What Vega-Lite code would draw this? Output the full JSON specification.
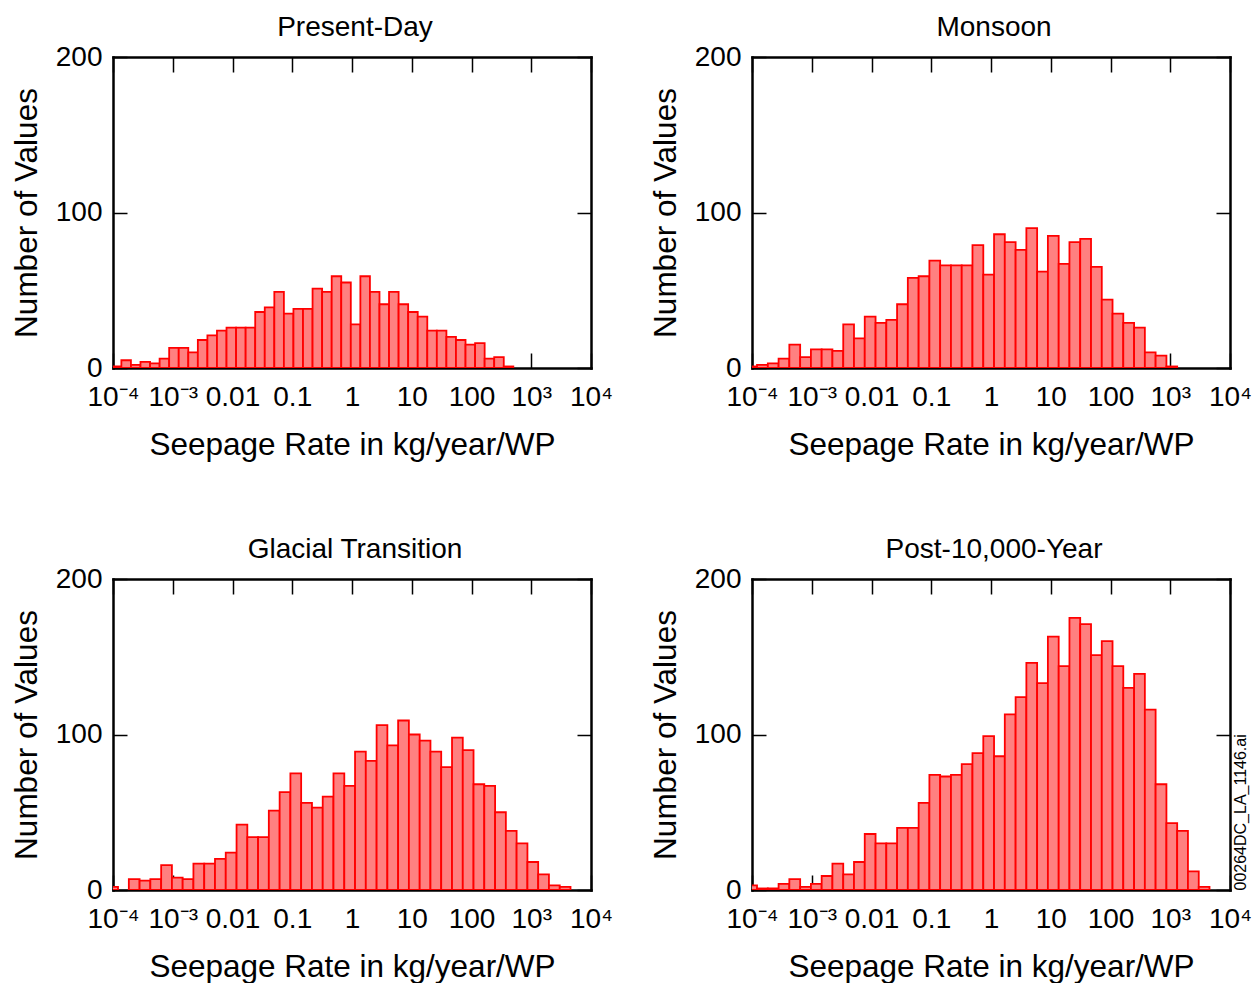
{
  "$schema": "https://vega.github.io/schema/vega-lite/v6.json",
  "background": "white",
  "padding": {"left": 11, "top": 14, "right": 0, "bottom": 0},
  "bounds": "flush",
  "columns": 2,
  "spacing": {"row": 211, "column": 161},
  "datasets": {
    "seepage": [
      {"period": "Present-Day", "log_lo": -4.02, "log_hi": -3.86, "count": 1},
      {"period": "Present-Day", "log_lo": -3.86, "log_hi": -3.70, "count": 5},
      {"period": "Present-Day", "log_lo": -3.70, "log_hi": -3.54, "count": 2},
      {"period": "Present-Day", "log_lo": -3.54, "log_hi": -3.38, "count": 4},
      {"period": "Present-Day", "log_lo": -3.38, "log_hi": -3.22, "count": 3},
      {"period": "Present-Day", "log_lo": -3.22, "log_hi": -3.06, "count": 6},
      {"period": "Present-Day", "log_lo": -3.06, "log_hi": -2.90, "count": 13},
      {"period": "Present-Day", "log_lo": -2.90, "log_hi": -2.74, "count": 13},
      {"period": "Present-Day", "log_lo": -2.74, "log_hi": -2.58, "count": 10},
      {"period": "Present-Day", "log_lo": -2.58, "log_hi": -2.42, "count": 18},
      {"period": "Present-Day", "log_lo": -2.42, "log_hi": -2.26, "count": 21},
      {"period": "Present-Day", "log_lo": -2.26, "log_hi": -2.10, "count": 24},
      {"period": "Present-Day", "log_lo": -2.10, "log_hi": -1.94, "count": 26},
      {"period": "Present-Day", "log_lo": -1.94, "log_hi": -1.78, "count": 26},
      {"period": "Present-Day", "log_lo": -1.78, "log_hi": -1.62, "count": 26},
      {"period": "Present-Day", "log_lo": -1.62, "log_hi": -1.46, "count": 36},
      {"period": "Present-Day", "log_lo": -1.46, "log_hi": -1.30, "count": 39},
      {"period": "Present-Day", "log_lo": -1.30, "log_hi": -1.14, "count": 49},
      {"period": "Present-Day", "log_lo": -1.14, "log_hi": -0.98, "count": 35},
      {"period": "Present-Day", "log_lo": -0.98, "log_hi": -0.82, "count": 38},
      {"period": "Present-Day", "log_lo": -0.82, "log_hi": -0.66, "count": 38},
      {"period": "Present-Day", "log_lo": -0.66, "log_hi": -0.50, "count": 51},
      {"period": "Present-Day", "log_lo": -0.50, "log_hi": -0.34, "count": 49},
      {"period": "Present-Day", "log_lo": -0.34, "log_hi": -0.18, "count": 59},
      {"period": "Present-Day", "log_lo": -0.18, "log_hi": -0.02, "count": 55},
      {"period": "Present-Day", "log_lo": -0.02, "log_hi": 0.14, "count": 28},
      {"period": "Present-Day", "log_lo": 0.14, "log_hi": 0.30, "count": 59},
      {"period": "Present-Day", "log_lo": 0.30, "log_hi": 0.46, "count": 49},
      {"period": "Present-Day", "log_lo": 0.46, "log_hi": 0.62, "count": 41},
      {"period": "Present-Day", "log_lo": 0.62, "log_hi": 0.78, "count": 49},
      {"period": "Present-Day", "log_lo": 0.78, "log_hi": 0.94, "count": 41},
      {"period": "Present-Day", "log_lo": 0.94, "log_hi": 1.10, "count": 36},
      {"period": "Present-Day", "log_lo": 1.10, "log_hi": 1.26, "count": 33},
      {"period": "Present-Day", "log_lo": 1.26, "log_hi": 1.42, "count": 24},
      {"period": "Present-Day", "log_lo": 1.42, "log_hi": 1.58, "count": 24},
      {"period": "Present-Day", "log_lo": 1.58, "log_hi": 1.74, "count": 20},
      {"period": "Present-Day", "log_lo": 1.74, "log_hi": 1.90, "count": 18},
      {"period": "Present-Day", "log_lo": 1.90, "log_hi": 2.06, "count": 15},
      {"period": "Present-Day", "log_lo": 2.06, "log_hi": 2.22, "count": 16},
      {"period": "Present-Day", "log_lo": 2.22, "log_hi": 2.38, "count": 6},
      {"period": "Present-Day", "log_lo": 2.38, "log_hi": 2.54, "count": 7},
      {"period": "Present-Day", "log_lo": 2.54, "log_hi": 2.70, "count": 1},

      {"period": "Monsoon", "log_lo": -4.096, "log_hi": -3.916, "count": 1},
      {"period": "Monsoon", "log_lo": -3.916, "log_hi": -3.735, "count": 2},
      {"period": "Monsoon", "log_lo": -3.735, "log_hi": -3.555, "count": 3},
      {"period": "Monsoon", "log_lo": -3.555, "log_hi": -3.375, "count": 6},
      {"period": "Monsoon", "log_lo": -3.375, "log_hi": -3.194, "count": 15},
      {"period": "Monsoon", "log_lo": -3.194, "log_hi": -3.014, "count": 7},
      {"period": "Monsoon", "log_lo": -3.014, "log_hi": -2.834, "count": 12},
      {"period": "Monsoon", "log_lo": -2.834, "log_hi": -2.654, "count": 12},
      {"period": "Monsoon", "log_lo": -2.654, "log_hi": -2.473, "count": 11},
      {"period": "Monsoon", "log_lo": -2.473, "log_hi": -2.293, "count": 28},
      {"period": "Monsoon", "log_lo": -2.293, "log_hi": -2.113, "count": 19},
      {"period": "Monsoon", "log_lo": -2.113, "log_hi": -1.932, "count": 33},
      {"period": "Monsoon", "log_lo": -1.932, "log_hi": -1.752, "count": 29},
      {"period": "Monsoon", "log_lo": -1.752, "log_hi": -1.572, "count": 31},
      {"period": "Monsoon", "log_lo": -1.572, "log_hi": -1.392, "count": 41},
      {"period": "Monsoon", "log_lo": -1.392, "log_hi": -1.211, "count": 58},
      {"period": "Monsoon", "log_lo": -1.211, "log_hi": -1.031, "count": 59},
      {"period": "Monsoon", "log_lo": -1.031, "log_hi": -0.851, "count": 69},
      {"period": "Monsoon", "log_lo": -0.851, "log_hi": -0.670, "count": 66},
      {"period": "Monsoon", "log_lo": -0.670, "log_hi": -0.490, "count": 66},
      {"period": "Monsoon", "log_lo": -0.490, "log_hi": -0.310, "count": 66},
      {"period": "Monsoon", "log_lo": -0.310, "log_hi": -0.129, "count": 79},
      {"period": "Monsoon", "log_lo": -0.129, "log_hi": 0.051, "count": 60},
      {"period": "Monsoon", "log_lo": 0.051, "log_hi": 0.231, "count": 86},
      {"period": "Monsoon", "log_lo": 0.231, "log_hi": 0.412, "count": 81},
      {"period": "Monsoon", "log_lo": 0.412, "log_hi": 0.592, "count": 76},
      {"period": "Monsoon", "log_lo": 0.592, "log_hi": 0.772, "count": 90},
      {"period": "Monsoon", "log_lo": 0.772, "log_hi": 0.952, "count": 62},
      {"period": "Monsoon", "log_lo": 0.952, "log_hi": 1.133, "count": 85},
      {"period": "Monsoon", "log_lo": 1.133, "log_hi": 1.313, "count": 67},
      {"period": "Monsoon", "log_lo": 1.313, "log_hi": 1.493, "count": 81},
      {"period": "Monsoon", "log_lo": 1.493, "log_hi": 1.674, "count": 83},
      {"period": "Monsoon", "log_lo": 1.674, "log_hi": 1.854, "count": 65},
      {"period": "Monsoon", "log_lo": 1.854, "log_hi": 2.034, "count": 44},
      {"period": "Monsoon", "log_lo": 2.034, "log_hi": 2.214, "count": 35},
      {"period": "Monsoon", "log_lo": 2.214, "log_hi": 2.395, "count": 29},
      {"period": "Monsoon", "log_lo": 2.395, "log_hi": 2.575, "count": 26},
      {"period": "Monsoon", "log_lo": 2.575, "log_hi": 2.755, "count": 10},
      {"period": "Monsoon", "log_lo": 2.755, "log_hi": 2.936, "count": 8},
      {"period": "Monsoon", "log_lo": 2.936, "log_hi": 3.116, "count": 1},

      {"period": "Glacial Transition", "log_lo": -4.096, "log_hi": -3.916, "count": 2},
      {"period": "Glacial Transition", "log_lo": -3.735, "log_hi": -3.555, "count": 7},
      {"period": "Glacial Transition", "log_lo": -3.555, "log_hi": -3.375, "count": 6},
      {"period": "Glacial Transition", "log_lo": -3.375, "log_hi": -3.194, "count": 7},
      {"period": "Glacial Transition", "log_lo": -3.194, "log_hi": -3.014, "count": 16},
      {"period": "Glacial Transition", "log_lo": -3.014, "log_hi": -2.834, "count": 8},
      {"period": "Glacial Transition", "log_lo": -2.834, "log_hi": -2.654, "count": 7},
      {"period": "Glacial Transition", "log_lo": -2.654, "log_hi": -2.473, "count": 17},
      {"period": "Glacial Transition", "log_lo": -2.473, "log_hi": -2.293, "count": 17},
      {"period": "Glacial Transition", "log_lo": -2.293, "log_hi": -2.113, "count": 20},
      {"period": "Glacial Transition", "log_lo": -2.113, "log_hi": -1.932, "count": 24},
      {"period": "Glacial Transition", "log_lo": -1.932, "log_hi": -1.752, "count": 42},
      {"period": "Glacial Transition", "log_lo": -1.752, "log_hi": -1.572, "count": 34},
      {"period": "Glacial Transition", "log_lo": -1.572, "log_hi": -1.392, "count": 34},
      {"period": "Glacial Transition", "log_lo": -1.392, "log_hi": -1.211, "count": 51},
      {"period": "Glacial Transition", "log_lo": -1.211, "log_hi": -1.031, "count": 63},
      {"period": "Glacial Transition", "log_lo": -1.031, "log_hi": -0.851, "count": 75},
      {"period": "Glacial Transition", "log_lo": -0.851, "log_hi": -0.670, "count": 56},
      {"period": "Glacial Transition", "log_lo": -0.670, "log_hi": -0.490, "count": 53},
      {"period": "Glacial Transition", "log_lo": -0.490, "log_hi": -0.310, "count": 60},
      {"period": "Glacial Transition", "log_lo": -0.310, "log_hi": -0.129, "count": 75},
      {"period": "Glacial Transition", "log_lo": -0.129, "log_hi": 0.051, "count": 67},
      {"period": "Glacial Transition", "log_lo": 0.051, "log_hi": 0.231, "count": 89},
      {"period": "Glacial Transition", "log_lo": 0.231, "log_hi": 0.412, "count": 83},
      {"period": "Glacial Transition", "log_lo": 0.412, "log_hi": 0.592, "count": 106},
      {"period": "Glacial Transition", "log_lo": 0.592, "log_hi": 0.772, "count": 93},
      {"period": "Glacial Transition", "log_lo": 0.772, "log_hi": 0.952, "count": 109},
      {"period": "Glacial Transition", "log_lo": 0.952, "log_hi": 1.133, "count": 100},
      {"period": "Glacial Transition", "log_lo": 1.133, "log_hi": 1.313, "count": 96},
      {"period": "Glacial Transition", "log_lo": 1.313, "log_hi": 1.493, "count": 89},
      {"period": "Glacial Transition", "log_lo": 1.493, "log_hi": 1.674, "count": 79},
      {"period": "Glacial Transition", "log_lo": 1.674, "log_hi": 1.854, "count": 98},
      {"period": "Glacial Transition", "log_lo": 1.854, "log_hi": 2.034, "count": 90},
      {"period": "Glacial Transition", "log_lo": 2.034, "log_hi": 2.214, "count": 68},
      {"period": "Glacial Transition", "log_lo": 2.214, "log_hi": 2.395, "count": 67},
      {"period": "Glacial Transition", "log_lo": 2.395, "log_hi": 2.575, "count": 50},
      {"period": "Glacial Transition", "log_lo": 2.575, "log_hi": 2.755, "count": 38},
      {"period": "Glacial Transition", "log_lo": 2.755, "log_hi": 2.936, "count": 30},
      {"period": "Glacial Transition", "log_lo": 2.936, "log_hi": 3.116, "count": 18},
      {"period": "Glacial Transition", "log_lo": 3.116, "log_hi": 3.296, "count": 10},
      {"period": "Glacial Transition", "log_lo": 3.296, "log_hi": 3.477, "count": 3},
      {"period": "Glacial Transition", "log_lo": 3.477, "log_hi": 3.657, "count": 2},

      {"period": "Post-10,000-Year", "log_lo": -4.096, "log_hi": -3.916, "count": 3},
      {"period": "Post-10,000-Year", "log_lo": -3.916, "log_hi": -3.735, "count": 1},
      {"period": "Post-10,000-Year", "log_lo": -3.735, "log_hi": -3.555, "count": 1},
      {"period": "Post-10,000-Year", "log_lo": -3.555, "log_hi": -3.375, "count": 4},
      {"period": "Post-10,000-Year", "log_lo": -3.375, "log_hi": -3.194, "count": 7},
      {"period": "Post-10,000-Year", "log_lo": -3.194, "log_hi": -3.014, "count": 2},
      {"period": "Post-10,000-Year", "log_lo": -3.014, "log_hi": -2.834, "count": 4},
      {"period": "Post-10,000-Year", "log_lo": -2.834, "log_hi": -2.654, "count": 9},
      {"period": "Post-10,000-Year", "log_lo": -2.654, "log_hi": -2.473, "count": 17},
      {"period": "Post-10,000-Year", "log_lo": -2.473, "log_hi": -2.293, "count": 10},
      {"period": "Post-10,000-Year", "log_lo": -2.293, "log_hi": -2.113, "count": 18},
      {"period": "Post-10,000-Year", "log_lo": -2.113, "log_hi": -1.932, "count": 36},
      {"period": "Post-10,000-Year", "log_lo": -1.932, "log_hi": -1.752, "count": 30},
      {"period": "Post-10,000-Year", "log_lo": -1.752, "log_hi": -1.572, "count": 30},
      {"period": "Post-10,000-Year", "log_lo": -1.572, "log_hi": -1.392, "count": 40},
      {"period": "Post-10,000-Year", "log_lo": -1.392, "log_hi": -1.211, "count": 40},
      {"period": "Post-10,000-Year", "log_lo": -1.211, "log_hi": -1.031, "count": 56},
      {"period": "Post-10,000-Year", "log_lo": -1.031, "log_hi": -0.851, "count": 74},
      {"period": "Post-10,000-Year", "log_lo": -0.851, "log_hi": -0.670, "count": 73},
      {"period": "Post-10,000-Year", "log_lo": -0.670, "log_hi": -0.490, "count": 74},
      {"period": "Post-10,000-Year", "log_lo": -0.490, "log_hi": -0.310, "count": 81},
      {"period": "Post-10,000-Year", "log_lo": -0.310, "log_hi": -0.129, "count": 88},
      {"period": "Post-10,000-Year", "log_lo": -0.129, "log_hi": 0.051, "count": 99},
      {"period": "Post-10,000-Year", "log_lo": 0.051, "log_hi": 0.231, "count": 86},
      {"period": "Post-10,000-Year", "log_lo": 0.231, "log_hi": 0.412, "count": 113},
      {"period": "Post-10,000-Year", "log_lo": 0.412, "log_hi": 0.592, "count": 124},
      {"period": "Post-10,000-Year", "log_lo": 0.592, "log_hi": 0.772, "count": 146},
      {"period": "Post-10,000-Year", "log_lo": 0.772, "log_hi": 0.952, "count": 133},
      {"period": "Post-10,000-Year", "log_lo": 0.952, "log_hi": 1.133, "count": 163},
      {"period": "Post-10,000-Year", "log_lo": 1.133, "log_hi": 1.313, "count": 144},
      {"period": "Post-10,000-Year", "log_lo": 1.313, "log_hi": 1.493, "count": 175},
      {"period": "Post-10,000-Year", "log_lo": 1.493, "log_hi": 1.674, "count": 171},
      {"period": "Post-10,000-Year", "log_lo": 1.674, "log_hi": 1.854, "count": 151},
      {"period": "Post-10,000-Year", "log_lo": 1.854, "log_hi": 2.034, "count": 160},
      {"period": "Post-10,000-Year", "log_lo": 2.034, "log_hi": 2.214, "count": 144},
      {"period": "Post-10,000-Year", "log_lo": 2.214, "log_hi": 2.395, "count": 130},
      {"period": "Post-10,000-Year", "log_lo": 2.395, "log_hi": 2.575, "count": 139},
      {"period": "Post-10,000-Year", "log_lo": 2.575, "log_hi": 2.755, "count": 116},
      {"period": "Post-10,000-Year", "log_lo": 2.755, "log_hi": 2.936, "count": 68},
      {"period": "Post-10,000-Year", "log_lo": 2.936, "log_hi": 3.116, "count": 43},
      {"period": "Post-10,000-Year", "log_lo": 3.116, "log_hi": 3.296, "count": 38},
      {"period": "Post-10,000-Year", "log_lo": 3.296, "log_hi": 3.477, "count": 12},
      {"period": "Post-10,000-Year", "log_lo": 3.477, "log_hi": 3.657, "count": 2}
    ]
  },
  "data": {"name": "seepage"},
  "concat": [
    {
      "title": "Present-Day",
      "width": 478, "height": 311,
      "transform": [{"filter": "datum.period === 'Present-Day'"}],
      "layer": [
        {
          "mark": {"type": "bar", "fill": "#ff8080", "stroke": "#ff0000", "strokeWidth": 1.8, "clip": true},
          "encoding": {
            "x": {"field": "log_lo", "type": "quantitative", "scale": {"domain": [-4, 4], "nice": false, "zero": false},
              "axis": {"orient": "bottom", "values": [-4, -3, -2, -1, 0, 1, 2, 3, 4], "title": "Seepage Rate in kg/year/WP", "tickSize": -15, "labelPadding": 30, "titlePadding": 18, "labelOverlap": false, "labelFlush": false, "labelBound": false,
                "labelExpr": "datum.value == -4 ? '10⁻⁴' : datum.value == -3 ? '10⁻³' : datum.value == -2 ? '0.01' : datum.value == -1 ? '0.1' : datum.value == 0 ? '1' : datum.value == 1 ? '10' : datum.value == 2 ? '100' : datum.value == 3 ? '10³' : '10⁴'"}},
            "x2": {"field": "log_hi"},
            "y": {"field": "count", "type": "quantitative", "scale": {"domain": [0, 200], "nice": false},
              "axis": {"orient": "left", "values": [0, 100, 200], "title": "Number of Values", "tickSize": -14, "labelPadding": 25, "titlePadding": 12}},
            "y2": {"datum": 0}
          }
        },
        {
          "mark": {"type": "point", "opacity": 0},
          "encoding": {
            "x": {"field": "log_lo", "type": "quantitative", "scale": {"domain": [-4, 4], "nice": false, "zero": false},
              "axis": {"orient": "top", "values": [-4, -3, -2, -1, 0, 1, 2, 3, 4], "labels": false, "title": null, "tickSize": -15}},
            "y": {"field": "count", "type": "quantitative", "scale": {"domain": [0, 200], "nice": false},
              "axis": {"orient": "right", "values": [0, 100, 200], "labels": false, "title": null, "tickSize": -14}}
          }
        }
      ],
      "resolve": {"axis": {"x": "independent", "y": "independent"}}
    },
    {
      "title": "Monsoon",
      "width": 478, "height": 311,
      "transform": [{"filter": "datum.period === 'Monsoon'"}],
      "layer": [
        {
          "mark": {"type": "bar", "fill": "#ff8080", "stroke": "#ff0000", "strokeWidth": 1.8, "clip": true},
          "encoding": {
            "x": {"field": "log_lo", "type": "quantitative", "scale": {"domain": [-4, 4], "nice": false, "zero": false},
              "axis": {"orient": "bottom", "values": [-4, -3, -2, -1, 0, 1, 2, 3, 4], "title": "Seepage Rate in kg/year/WP", "tickSize": -15, "labelPadding": 30, "titlePadding": 18, "labelOverlap": false, "labelFlush": false, "labelBound": false,
                "labelExpr": "datum.value == -4 ? '10⁻⁴' : datum.value == -3 ? '10⁻³' : datum.value == -2 ? '0.01' : datum.value == -1 ? '0.1' : datum.value == 0 ? '1' : datum.value == 1 ? '10' : datum.value == 2 ? '100' : datum.value == 3 ? '10³' : '10⁴'"}},
            "x2": {"field": "log_hi"},
            "y": {"field": "count", "type": "quantitative", "scale": {"domain": [0, 200], "nice": false},
              "axis": {"orient": "left", "values": [0, 100, 200], "title": "Number of Values", "tickSize": -14, "labelPadding": 25, "titlePadding": 12}},
            "y2": {"datum": 0}
          }
        },
        {
          "mark": {"type": "point", "opacity": 0},
          "encoding": {
            "x": {"field": "log_lo", "type": "quantitative", "scale": {"domain": [-4, 4], "nice": false, "zero": false},
              "axis": {"orient": "top", "values": [-4, -3, -2, -1, 0, 1, 2, 3, 4], "labels": false, "title": null, "tickSize": -15}},
            "y": {"field": "count", "type": "quantitative", "scale": {"domain": [0, 200], "nice": false},
              "axis": {"orient": "right", "values": [0, 100, 200], "labels": false, "title": null, "tickSize": -14}}
          }
        }
      ],
      "resolve": {"axis": {"x": "independent", "y": "independent"}}
    },
    {
      "title": "Glacial Transition",
      "width": 478, "height": 311,
      "transform": [{"filter": "datum.period === 'Glacial Transition'"}],
      "layer": [
        {
          "mark": {"type": "bar", "fill": "#ff8080", "stroke": "#ff0000", "strokeWidth": 1.8, "clip": true},
          "encoding": {
            "x": {"field": "log_lo", "type": "quantitative", "scale": {"domain": [-4, 4], "nice": false, "zero": false},
              "axis": {"orient": "bottom", "values": [-4, -3, -2, -1, 0, 1, 2, 3, 4], "title": "Seepage Rate in kg/year/WP", "tickSize": -15, "labelPadding": 30, "titlePadding": 18, "labelOverlap": false, "labelFlush": false, "labelBound": false,
                "labelExpr": "datum.value == -4 ? '10⁻⁴' : datum.value == -3 ? '10⁻³' : datum.value == -2 ? '0.01' : datum.value == -1 ? '0.1' : datum.value == 0 ? '1' : datum.value == 1 ? '10' : datum.value == 2 ? '100' : datum.value == 3 ? '10³' : '10⁴'"}},
            "x2": {"field": "log_hi"},
            "y": {"field": "count", "type": "quantitative", "scale": {"domain": [0, 200], "nice": false},
              "axis": {"orient": "left", "values": [0, 100, 200], "title": "Number of Values", "tickSize": -14, "labelPadding": 25, "titlePadding": 12}},
            "y2": {"datum": 0}
          }
        },
        {
          "mark": {"type": "point", "opacity": 0},
          "encoding": {
            "x": {"field": "log_lo", "type": "quantitative", "scale": {"domain": [-4, 4], "nice": false, "zero": false},
              "axis": {"orient": "top", "values": [-4, -3, -2, -1, 0, 1, 2, 3, 4], "labels": false, "title": null, "tickSize": -15}},
            "y": {"field": "count", "type": "quantitative", "scale": {"domain": [0, 200], "nice": false},
              "axis": {"orient": "right", "values": [0, 100, 200], "labels": false, "title": null, "tickSize": -14}}
          }
        }
      ],
      "resolve": {"axis": {"x": "independent", "y": "independent"}}
    },
    {
      "title": "Post-10,000-Year",
      "width": 478, "height": 311,
      "transform": [{"filter": "datum.period === 'Post-10,000-Year'"}],
      "layer": [
        {
          "mark": {"type": "bar", "fill": "#ff8080", "stroke": "#ff0000", "strokeWidth": 1.8, "clip": true},
          "encoding": {
            "x": {"field": "log_lo", "type": "quantitative", "scale": {"domain": [-4, 4], "nice": false, "zero": false},
              "axis": {"orient": "bottom", "values": [-4, -3, -2, -1, 0, 1, 2, 3, 4], "title": "Seepage Rate in kg/year/WP", "tickSize": -15, "labelPadding": 30, "titlePadding": 18, "labelOverlap": false, "labelFlush": false, "labelBound": false,
                "labelExpr": "datum.value == -4 ? '10⁻⁴' : datum.value == -3 ? '10⁻³' : datum.value == -2 ? '0.01' : datum.value == -1 ? '0.1' : datum.value == 0 ? '1' : datum.value == 1 ? '10' : datum.value == 2 ? '100' : datum.value == 3 ? '10³' : '10⁴'"}},
            "x2": {"field": "log_hi"},
            "y": {"field": "count", "type": "quantitative", "scale": {"domain": [0, 200], "nice": false},
              "axis": {"orient": "left", "values": [0, 100, 200], "title": "Number of Values", "tickSize": -14, "labelPadding": 25, "titlePadding": 12}},
            "y2": {"datum": 0}
          }
        },
        {
          "mark": {"type": "point", "opacity": 0},
          "encoding": {
            "x": {"field": "log_lo", "type": "quantitative", "scale": {"domain": [-4, 4], "nice": false, "zero": false},
              "axis": {"orient": "top", "values": [-4, -3, -2, -1, 0, 1, 2, 3, 4], "labels": false, "title": null, "tickSize": -15}},
            "y": {"field": "count", "type": "quantitative", "scale": {"domain": [0, 200], "nice": false},
              "axis": {"orient": "right", "values": [0, 100, 200], "labels": false, "tickSize": -14,
                "title": "00264DC_LA_1146.ai", "titleFontSize": 16, "titleAngle": 270, "titleAnchor": "start", "titleBaseline": "top", "titlePadding": 2}}
          }
        }
      ],
      "resolve": {"axis": {"x": "independent", "y": "independent"}}
    }
  ],
  "config": {
    "font": "Liberation Sans",
    "view": {"stroke": null},
    "title": {"fontSize": 28, "fontWeight": "normal", "color": "black", "offset": 1, "baseline": "alphabetic", "dx": 3},
    "axis": {
      "domain": true, "domainColor": "black", "domainWidth": 2.5, "domainCap": "square",
      "ticks": true, "tickColor": "black", "tickWidth": 1.5,
      "grid": false, "zindex": 1,
      "labelFontSize": 28, "labelColor": "black",
      "titleFontSize": 31.5, "titleFontWeight": "normal", "titleColor": "black"
    }
  }
}
